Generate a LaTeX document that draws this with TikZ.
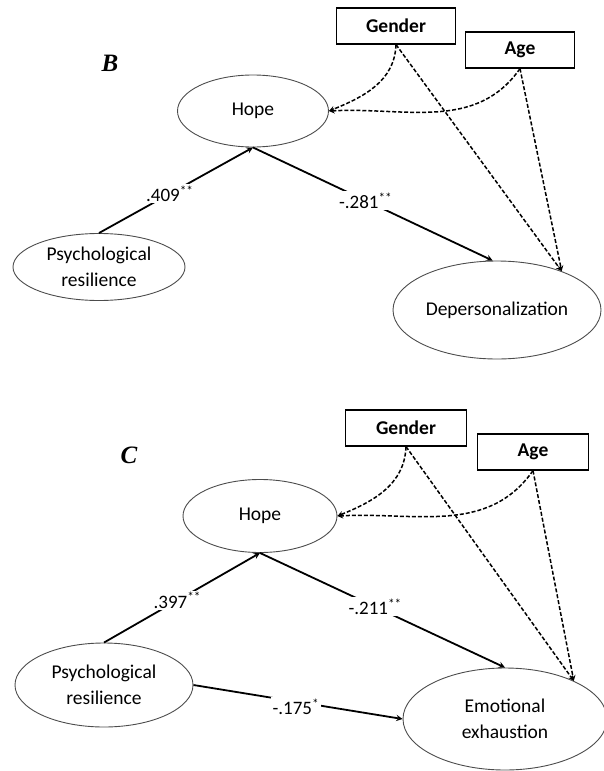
\documentclass[tikz,border=0pt]{standalone}
\usepackage{fontspec}
\setmainfont{Carlito}
\newfontfamily\panelfont{Liberation Serif}
\usepackage{tikz}
\usetikzlibrary{shapes,arrows,positioning}
\tikzset{
    latent/.style={draw=black!70, ellipse, line width=0.9pt, inner sep=0pt, align=center, font=\fontsize{19.5}{26}\selectfont},
    covar/.style={draw, rectangle, line width=1.2pt, minimum height=36pt, font=\fontsize{19.5}{23}\selectfont\bfseries},
    effect/.style={->, >=stealth, line width=1.8pt},
    control/.style={->, >=stealth, line width=1.5pt, dash pattern=on 4pt off 2pt},
    coef/.style={fill=white, inner sep=1.5pt, font=\fontsize{19}{22}\selectfont},
    panel/.style={font=\fontsize{25}{28}\panelfont\bfseries\itshape}
}

\begin{document}
\begin{tikzpicture}[x=1pt, y=1pt]
        \useasboundingbox (0,0) rectangle (604,-771);

        % Panel B
        \node[panel] (labB) at (110,-63) {B};
        \node[covar, minimum width=119pt] (genB) at (396,-26) {Gender};
        \node[covar, minimum width=109pt] (ageB) at (520,-50) {Age};
        \node[latent, minimum width=151pt, minimum height=72pt] (hopeB) at (253,-111) {Hope};
        \node[latent, minimum width=172pt, minimum height=67pt] (resB) at (99,-267) {Psychological\\resilience};
        \node[latent, minimum width=208pt, minimum height=98pt] (depB) at (497,-310) {Depersonalization};

        % Paths B
        \draw[effect] (resB.north) -- node[coef, pos=0.46] {.409\textsuperscript{**}} (hopeB.south);
        \draw[effect] (hopeB.south) -- node[coef, pos=0.47] {-.281\textsuperscript{**}} (depB.95);

        % Controls B
        \draw[control] (genB.south) to[out=-92, in=22] (hopeB.east);
        \draw[control] (ageB.south) to[out=-125, in=3] (hopeB.east);
        \draw[control] (genB.south) -- (depB.31);
        \draw[control] (ageB.south) -- (depB.31);

        % Panel C
        \node[panel] (labC) at (129,-455) {C};
        \node[covar, minimum width=121pt] (genC) at (406,-428) {Gender};
        \node[covar, minimum width=111pt] (ageC) at (533,-452) {Age};
        \node[latent, minimum width=154pt, minimum height=73pt] (hopeC) at (260,-516) {Hope};
        \node[latent, minimum width=178pt, minimum height=84pt] (resC) at (104,-685) {Psychological\\resilience};
        \node[latent, minimum width=204pt, minimum height=102pt] (emoC) at (505,-719) {Emotional\\exhaustion};

        % Paths C
        \draw[effect] (resC.north) -- node[coef, pos=0.47] {.397\textsuperscript{**}} (hopeC.south);
        \draw[effect] (hopeC.south) -- node[coef, pos=0.47] {-.211\textsuperscript{**}} (emoC.north);
        \draw[effect] (resC.east) -- node[coef, pos=0.49, yshift=-5pt] {-.175\textsuperscript{*}} (emoC.west);

        % Controls C
        \draw[control] (genC.south) to[out=-92, in=22] (hopeC.east);
        \draw[control] (ageC.south) to[out=-125, in=3] (hopeC.east);
        \draw[control] (genC.south) -- (emoC.29);
        \draw[control] (ageC.south) -- (emoC.29);
    \end{tikzpicture}
\end{document}
